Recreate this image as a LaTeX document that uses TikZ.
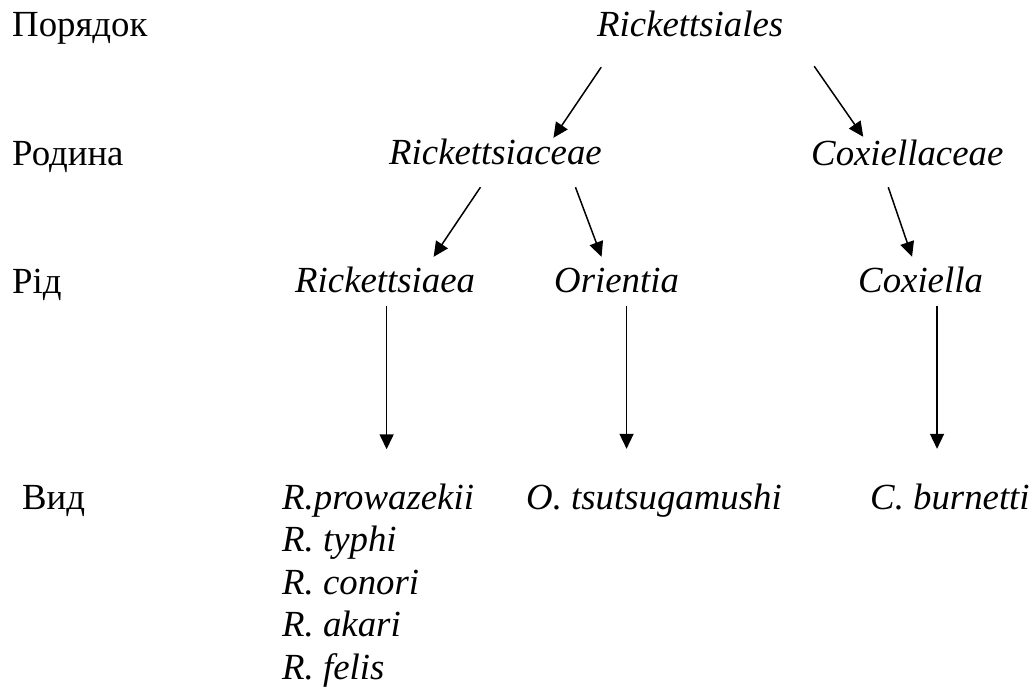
\documentclass[tikz,border=0pt]{standalone}
\usepackage{fontspec}
\setmainfont{Liberation Serif}
\usetikzlibrary{arrows.meta}

\begin{document}
\begin{tikzpicture}[x=1pt, y=-1pt,
  rank/.style={anchor=base west, inner sep=0pt, text height=26pt, text depth=8pt, font=\fontsize{36.8}{42.5}\selectfont},
  taxon/.style={rank, font=\fontsize{36.8}{42.5}\selectfont\itshape},
  link/.style={-{Triangle[length=15pt, width=14pt]}, line width=1.5pt}
]
  \useasboundingbox (0,0) rectangle (1032,686);

  % Ranks
  \node[rank] (rord) at (12, 36) {Порядок};
  \node[rank] (rfam) at (12, 165) {Родина};
  \node[rank] (rgen) at (12, 293) {Рід};
  \node[rank] (rsp) at (22, 509) {Вид};

  % Order and families
  \node[taxon] (ord) at (597, 36) {Rickettsiales};
  \node[taxon] (fam1) at (389, 164) {Rickettsiaceae};
  \node[taxon] (fam2) at (811, 165) {Coxiellaceae};

  % Genera
  \node[taxon] (gen1) at (295, 292) {Rickettsiaea};
  \node[taxon] (gen2) at (554, 292) {Orientia};
  \node[taxon] (gen3) at (858, 292) {Coxiella};

  % Species (base of the list is its last line)
  \node[taxon, align=left, text height=, text depth=] (sp1) at (282, 679) {R.prowazekii\\R. typhi\\R. conori\\R. akari\\R. felis};
  \node[taxon] (sp2) at (526, 509) {O. tsutsugamushi};
  \node[taxon] (sp3) at (870, 509) {C. burnetti};

  \draw[link] ([xshift=-89pt, yshift=-23pt]ord.south) -- ([xshift=58pt]fam1.north);
  \draw[link] ([xshift=124pt, yshift=-22pt]ord.south) -- ([xshift=-44pt, yshift=2pt]fam2.north);
  \draw[link] ([xshift=-15pt, yshift=-15pt]fam1.south) -- ([xshift=48.5pt, yshift=9pt]gen1.north);
  \draw[link] ([xshift=80pt, yshift=-15pt]fam1.south) -- ([xshift=-15pt, yshift=9pt]gen2.north);
  \draw[link] ([xshift=-19pt, yshift=-14pt]fam2.south) -- ([xshift=-8.5pt, yshift=9pt]gen3.north);
  \draw[link] ([xshift=1.5pt, yshift=-6pt]gen1.south) -- ([xshift=1.5pt, yshift=34pt]gen1.south |- sp1.north);
  \draw[link] ([xshift=10pt, yshift=-6pt]gen2.south) -- ([xshift=10pt, yshift=34pt]gen2.south |- sp2.north);
  \draw[link] ([xshift=16.5pt, yshift=-6pt]gen3.south) -- ([xshift=16.5pt, yshift=34pt]gen3.south |- sp3.north);
\end{tikzpicture}
\end{document}
